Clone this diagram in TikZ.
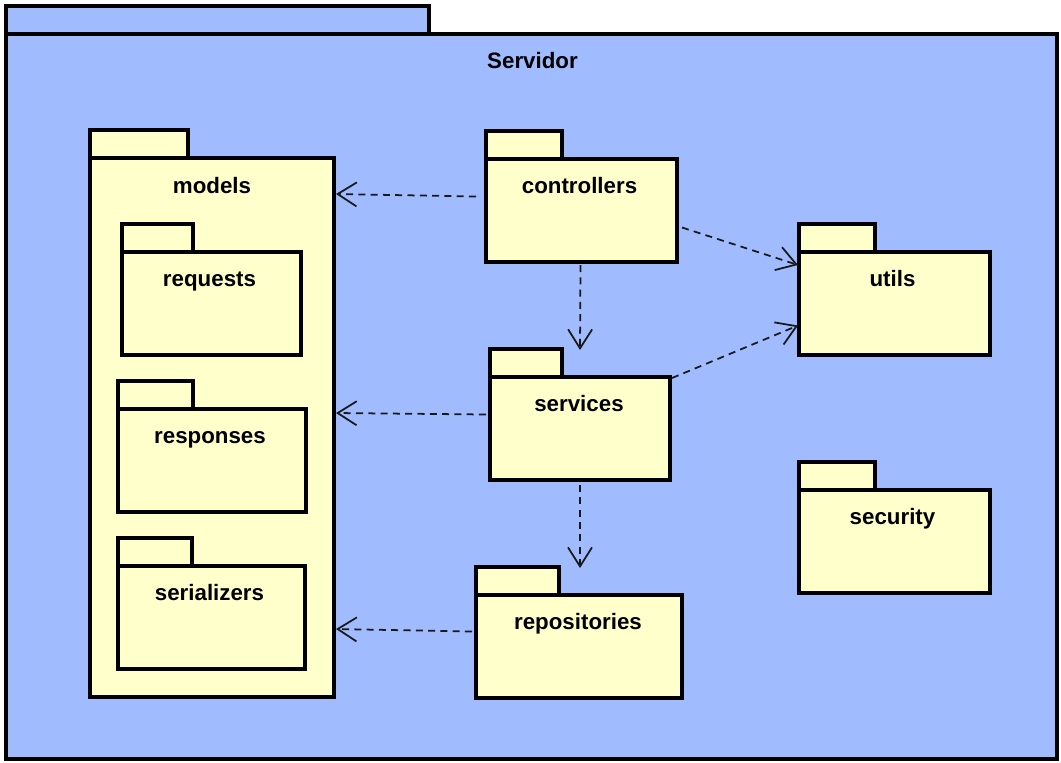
\documentclass[tikz,border=0pt]{standalone}
\usepackage{fontspec}
\setmainfont{Liberation Sans}
\usetikzlibrary{arrows.meta,calc,fit}
\definecolor{srvblue}{RGB}{160,188,255}
\definecolor{pkgyellow}{RGB}{255,255,204}
\begin{document}
\begin{tikzpicture}[x=0.02cm,y=-0.02cm,
  pkgline/.style={draw=black,line width=2.2pt},
  srvbody/.style={pkgline,fill=srvblue,inner sep=0pt,outer sep=0pt},
  pkgbody/.style={pkgline,fill=pkgyellow,inner sep=0pt,outer sep=0pt},
  pkgtitle/.style={anchor=base,inner sep=0pt,font=\fontsize{12.7}{15}\selectfont\bfseries},
  dep/.style={draw=black!90,line width=1pt,dash pattern=on 4pt off 3pt,
    -{Straight Barb[length=0.38cm,width=0.48cm,line width=1pt]}}]
\useasboundingbox (0,0) rectangle (1061,762);
\node[srvbody,fit={(6,34) (1057,759)}] (servidor) {};
\draw[pkgline,fill=srvblue] (servidor.north west) rectangle +(423,-28);
\node[pkgtitle] at ($(servidor.north)+(1,34)$) {Servidor};
\node[pkgbody,fit={(90,158) (334,697)}] (models) {};
\draw[pkgline,fill=pkgyellow] (models.north west) rectangle +(98,-28);
\node[pkgtitle] at ($(models.north)+(0,35)$) {models};
\node[pkgbody,fit={(122,252) (301,355)}] (requests) {};
\draw[pkgline,fill=pkgyellow] (requests.north west) rectangle +(71,-28);
\node[pkgtitle] at ($(requests.north)+(-2,34)$) {requests};
\node[pkgbody,fit={(118,409) (306,512)}] (responses) {};
\draw[pkgline,fill=pkgyellow] (responses.north west) rectangle +(75,-28);
\node[pkgtitle] at ($(responses.north)+(-2,34)$) {responses};
\node[pkgbody,fit={(118,566) (305,669)}] (serializers) {};
\draw[pkgline,fill=pkgyellow] (serializers.north west) rectangle +(74,-28);
\node[pkgtitle] at ($(serializers.north)+(-2,34)$) {serializers};
\node[pkgbody,fit={(486,159) (677,262)}] (controllers) {};
\draw[pkgline,fill=pkgyellow] (controllers.north west) rectangle +(76,-28);
\node[pkgtitle] at ($(controllers.north)+(-2,34)$) {controllers};
\node[pkgbody,fit={(799,252) (990,355)}] (utils) {};
\draw[pkgline,fill=pkgyellow] (utils.north west) rectangle +(76,-28);
\node[pkgtitle] at ($(utils.north)+(-2,34)$) {utils};
\node[pkgbody,fit={(490,377) (670,480)}] (services) {};
\draw[pkgline,fill=pkgyellow] (services.north west) rectangle +(72,-28);
\node[pkgtitle] at ($(services.north)+(-1,34)$) {services};
\node[pkgbody,fit={(799,490) (990,593)}] (security) {};
\draw[pkgline,fill=pkgyellow] (security.north west) rectangle +(76,-28);
\node[pkgtitle] at ($(security.north)+(-2,34)$) {security};
\node[pkgbody,fit={(476,595) (682,698)}] (repositories) {};
\draw[pkgline,fill=pkgyellow] (repositories.north west) rectangle +(83,-28);
\node[pkgtitle] at ($(repositories.north)+(-1,34)$) {repositories};
\draw[dep] ($(controllers.west)+(-10,-14)$) -- ($(models.north east)+(2,36)$);
\draw[dep] ($(controllers.south)+(-1,3)$) -- ($(services.north)+(0,-27)$);
\draw[dep] ($(controllers.east)+(5,17)$) -- ($(utils.north west)+(-1,13)$);
\draw[dep] ($(services.west)+(-4,-14)$) -- ($(models.north east)+(2,255)$);
\draw[dep] ($(services.north east)+(2,1)$) -- ($(utils.west)+(-1,22)$);
\draw[dep] ($(services.south)+(0,5)$) -- ($(repositories.north)+(1,-27)$);
\draw[dep] ($(repositories.west)+(-4,-15)$) -- ($(models.north east)+(2,471)$);
\end{tikzpicture}
\end{document}
